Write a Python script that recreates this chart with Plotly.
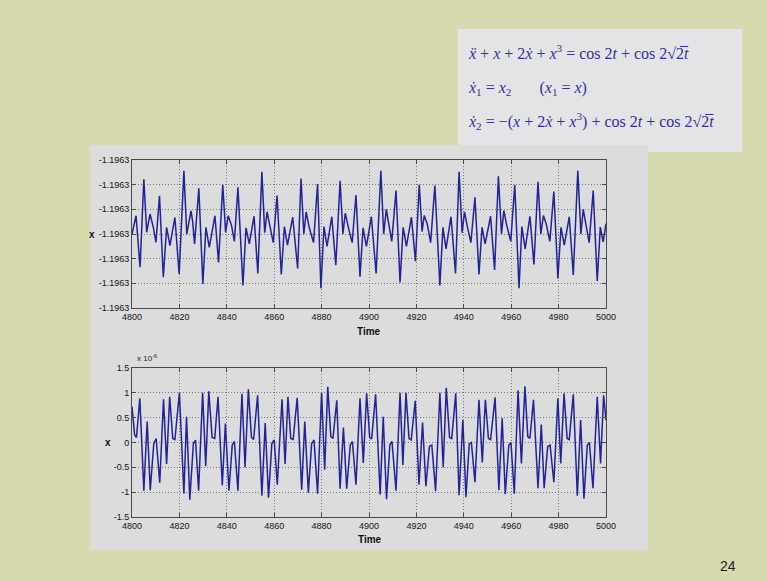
import plotly.graph_objects as go

W, H = 767, 581

# ---------------- data ----------------
# upper panel: x(t); all tick labels read "-1.1963", values stored in tick-step units around the centre tick
top_t = [4800.0, 4801.7, 4803.4,
         4805.0, 4806.2, 4807.6, 4809.0, 4810.1, 4811.6, 4813.2, 4814.6, 4816.0, 4818.1, 4819.9,
         4821.9, 4823.1, 4824.9, 4825.6, 4826.4, 4828.2, 4829.9, 4831.2, 4832.6, 4835.0, 4836.5,
         4838.3, 4839.5, 4840.6, 4842.0, 4843.2, 4844.7, 4846.8, 4848.1, 4849.5, 4851.5, 4853.1,
         4854.8, 4856.0, 4857.0, 4858.2, 4859.6, 4861.2, 4863.0, 4864.3, 4865.6, 4867.8, 4869.9,
         4871.3, 4872.5, 4873.5, 4874.8, 4876.6, 4878.3, 4879.7, 4881.0, 4882.3, 4884.3, 4886.0,
         4887.8, 4889.0, 4890.0, 4891.2, 4892.9, 4894.5, 4896.2, 4897.5, 4898.9, 4901.0, 4903.0,
         4905.0, 4906.2, 4907.3, 4908.4, 4909.6, 4911.4, 4913.1, 4914.4, 4915.8, 4917.9, 4919.6,
         4921.2, 4922.4, 4923.3, 4924.6, 4926.0, 4927.8, 4929.9, 4931.2, 4932.5, 4934.6, 4936.5,
         4938.0, 4939.3, 4940.3, 4941.5, 4943.0, 4944.7, 4946.4, 4947.7, 4949.0, 4951.3, 4953.0,
         4954.6, 4955.9, 4956.9, 4958.0, 4959.8, 4961.5, 4963.3, 4964.5, 4965.9, 4967.9, 4969.6,
         4971.3, 4972.5, 4973.6, 4974.8, 4976.3, 4978.0, 4979.7, 4981.0, 4982.4, 4984.5, 4986.2,
         4988.1, 4989.4, 4990.4, 4991.5, 4992.9, 4994.6, 4996.3, 4997.6, 4998.8, 5000.0]
top_x = [0.0, 0.74, -1.35,
         2.22, 0.07, 0.81, 0.27, -0.34, 1.55, -1.75, 0.27, -0.47, 0.67, -1.62,
         2.56, 0.0, 0.94, 0.5, -0.4, 1.85, -2.02, 0.27, -0.54, 0.74, -1.15,
         1.99, 0.07, 0.74, 0.34, -0.3, 1.89, -2.09, 0.25, -0.4, 0.72, -1.6,
         2.52, 0.05, 0.9, 0.3, -0.35, 1.56, -1.64, 0.3, -0.45, 0.68, -1.4,
         2.25, 0.0, 0.9, 0.25, -0.35, 2.03, -2.2, 0.3, -0.5, 0.7, -1.26,
         2.16, 0.0, 0.85, 0.3, -0.35, 1.58, -1.73, 0.25, -0.5, 0.7, -1.6,
         2.56, 0.0, 1.0, 0.45, -0.3, 1.76, -1.96, 0.27, -0.5, 0.68, -1.1,
         1.99, 0.1, 0.75, 0.4, -0.35, 1.96, -2.09, 0.27, -0.6, 0.7, -1.6,
         2.52, 0.05, 0.9, 0.3, -0.35, 1.49, -1.64, 0.27, -0.4, 0.72, -1.46,
         2.34, 0.0, 0.95, 0.4, -0.3, 1.99, -2.2, 0.3, -0.6, 0.72, -1.23,
         2.12, 0.0, 0.75, 0.4, -0.3, 1.72, -1.8, 0.27, -0.45, 0.7, -1.66,
         2.56, 0.0, 1.0, 0.4, -0.35, 1.76, -1.9, 0.28, -0.32, 0.42]
top_ticks = [-3, -2, -1, 0, 1, 2, 3]
top_ticklabels = ["-1.1963"] * 7

# lower panel: x(t) in units of 1e-6
bot_t = [4800.0, 4801.1, 4801.9,
         4803.3, 4805.0, 4806.4, 4807.7, 4809.2, 4810.2, 4811.7, 4813.3, 4814.6, 4815.9, 4817.2, 4818.1,
         4820.0, 4821.9, 4823.0, 4824.4, 4825.9, 4826.8, 4828.1, 4829.8, 4831.1, 4832.4, 4833.8, 4834.9,
         4836.3, 4838.1, 4839.4, 4840.9, 4842.3, 4843.2, 4844.7, 4846.4, 4847.7, 4849.1, 4850.4, 4851.3,
         4853.0, 4854.8, 4856.2, 4857.6, 4859.0, 4860.0, 4861.3, 4863.3, 4864.6, 4865.8, 4867.0, 4868.0,
         4869.7, 4871.6, 4872.9, 4874.4, 4875.8, 4876.8, 4878.3, 4880.0, 4881.3, 4882.6, 4883.9, 4884.8,
         4886.4, 4887.8, 4889.2, 4890.6, 4892.1, 4893.0, 4894.5, 4896.2, 4897.6, 4899.0, 4900.3, 4901.1,
         4902.8, 4904.7, 4906.0, 4907.4, 4908.8, 4909.7, 4911.4, 4913.1, 4914.3, 4915.6, 4916.9, 4917.8,
         4919.5, 4921.1, 4922.6, 4924.0, 4925.5, 4926.5, 4928.1, 4929.9, 4931.3, 4932.6, 4934.0, 4934.9,
         4936.6, 4938.0, 4939.6, 4940.9, 4942.3, 4943.2, 4944.7, 4946.4, 4947.8, 4949.1, 4950.4, 4951.3,
         4953.2, 4954.8, 4956.2, 4957.5, 4959.0, 4959.9, 4961.3, 4962.9, 4964.3, 4965.8, 4967.0, 4967.9,
         4969.4, 4971.3, 4972.7, 4973.9, 4975.4, 4976.4, 4978.0, 4979.7, 4980.9, 4982.3, 4983.6, 4984.5,
         4986.2, 4987.9, 4989.3, 4990.7, 4992.1, 4993.0, 4994.5, 4996.3, 4997.7, 4999.0, 5000.0]
bot_x = [0.72, 0.15, 0.1,
         0.89, -0.97, 0.42, -0.96, -0.02, 0.08, -0.81, 0.87, -0.43, 0.92, 0.08, 0.06,
         1.0, -1.03, 0.52, -1.15, -0.02, 0.05, -0.97, 1.0, -0.48, 1.03, 0.1, 0.08,
         0.92, -0.86, 0.38, -0.97, -0.05, 0.02, -0.97, 0.98, -0.5, 1.07, 0.1, 0.06,
         0.95, -1.07, 0.39, -1.11, -0.02, 0.05, -0.85, 0.87, -0.43, 0.92, 0.08, 0.06,
         0.9, -0.95, 0.42, -1.01, -0.02, 0.05, -1.03, 1.0, -0.55, 1.12, 0.12, 0.08,
         0.85, -0.93, 0.3, -0.93, -0.05, 0.02, -0.85, 0.89, -0.41, 0.99, 0.1, 0.07,
         0.97, -1.05, 0.52, -1.14, -0.05, 0.02, -0.97, 1.0, -0.45, 1.0, 0.08, 0.05,
         0.84, -0.85, 0.4, -0.88, -0.08, -0.05, -0.98, 1.0, -0.5, 1.1, 0.1, 0.08,
         0.99, -1.06, 0.45, -1.1, -0.03, 0.0, -0.8, 0.86, -0.4, 0.86, 0.08, 0.06,
         0.91, -0.96, 0.49, -1.04, -0.05, 0.0, -1.03, 1.05, -0.42, 1.13, 0.12, 0.08,
         0.86, -0.92, 0.36, -0.92, -0.08, -0.05, -0.8, 0.89, -0.42, 0.99, 0.08, 0.06,
         0.97, -1.07, 0.45, -1.13, -0.05, 0.0, -0.92, 0.92, -0.42, 0.95, 0.45]
bot_ticks = [-1.5, -1, -0.5, 0, 0.5, 1, 1.5]
bot_ticklabels = ["-1.5", "-1", "-0.5", "0", "0.5", "1", "1.5"]

time_ticks = [4800, 4820, 4840, 4860, 4880, 4900, 4920, 4940, 4960, 4980, 5000]

eq_lines = [
    "<i>x\u0308</i> + <i>x</i> + 2<i>x\u0307</i> + <i>x</i><sup>3</sup> = cos 2<i>t</i> + cos 2\u221a2\u0305<i>t</i>",
    "<i>x\u0307</i><sub>1</sub> = <i>x</i><sub>2</sub>       (<i>x</i><sub>1</sub> = <i>x</i>)",
    "<i>x\u0307</i><sub>2</sub> = \u2212(<i>x</i> + 2<i>x\u0307</i> + <i>x</i><sup>3</sup>) + cos 2<i>t</i> + cos 2\u221a2\u0305<i>t</i>",
]

# ---------------- figure ----------------
def px(x):
    return x / W

def py(y):
    return 1 - y / H

LINE = "#22229a"
TICKFONT = dict(family="Liberation Sans, Arial", size=9, color="#151515")

fig = go.Figure()
fig.add_trace(go.Scatter(x=top_t, y=top_x, mode="lines", line=dict(color=LINE, width=1.5),
                         xaxis="x", yaxis="y", showlegend=False, hoverinfo="skip"))
fig.add_trace(go.Scatter(x=bot_t, y=bot_x, mode="lines", line=dict(color=LINE, width=1.5),
                         xaxis="x2", yaxis="y2", showlegend=False, hoverinfo="skip"))

ax_common = dict(showline=True, linecolor="#4a4a4a", linewidth=1, mirror="allticks",
                 ticks="inside", ticklen=4, tickcolor="#4a4a4a",
                 showgrid=True, gridcolor="#7a7a7a", griddash="1px,2px", gridwidth=1,
                 zeroline=False, tickfont=TICKFONT, automargin=False)

xl, xr = px(132), px(606)
fig.update_layout(
    width=W, height=H,
    autosize=False,
    margin=dict(l=0, r=0, t=0, b=0, pad=0),
    paper_bgcolor="#d7d9ae",
    plot_bgcolor="#e2e2e2",
    xaxis=dict(domain=[xl, xr], range=[4800, 5000], tickvals=time_ticks, anchor="y", **ax_common),
    yaxis=dict(domain=[py(308), py(160)], range=[-3, 3], tickvals=top_ticks,
               ticktext=top_ticklabels, anchor="x", **ax_common),
    xaxis2=dict(domain=[xl, xr], range=[4800, 5000], tickvals=time_ticks, anchor="y2", **ax_common),
    yaxis2=dict(domain=[py(517), py(368)], range=[-1.5, 1.5], tickvals=bot_ticks,
                ticktext=bot_ticklabels, anchor="x2", **ax_common),
)

shapes = [
    # equation box
    dict(type="rect", xref="paper", yref="paper", x0=px(458), x1=px(742), y0=py(152), y1=py(29),
         fillcolor="#e4e4e6", line=dict(width=0), layer="below"),
    # figure panel
    dict(type="rect", xref="paper", yref="paper", x0=px(90), x1=px(648), y0=py(550), y1=py(145),
         fillcolor="#dcdcdc", line=dict(width=0), layer="below"),
]
fig.update_layout(shapes=shapes)

ann = []
eq_font = dict(family="Liberation Serif, Times New Roman", size=16, color="#3030a0")
for txt, yy in zip(eq_lines, [52, 88, 121]):
    ann.append(dict(text=txt, x=px(466), y=py(yy), xref="paper", yref="paper",
                    xanchor="left", yanchor="middle", showarrow=False, font=eq_font))

lab_font = dict(family="Liberation Sans, Arial", size=10, color="#111111")
C = dict(xref="paper", yref="paper", xanchor="center", yanchor="middle", showarrow=False)
ann += [
    dict(text="<b>x</b>", x=px(92), y=py(235), font=lab_font, **C),
    dict(text="<b>x</b>", x=px(108), y=py(442), font=lab_font, **C),
    dict(text="<b>Time</b>", x=px(369), y=py(331), font=lab_font, **C),
    dict(text="<b>Time</b>", x=px(370), y=py(539), font=lab_font, **C),
    dict(text="24", x=px(728), y=py(566), font=dict(family="Liberation Sans, Arial", size=14, color="#222222"), **C),
    dict(text="x 10<sup>-6</sup>", x=px(135), y=py(358), xref="paper", yref="paper", xanchor="left",
         yanchor="middle", showarrow=False,
         font=dict(family="Liberation Sans, Arial", size=8, color="#1e1e1e")),
]
fig.update_layout(annotations=ann)

fig.write_html("out.html", config={"displayModeBar": False, "responsive": False},
               post_script="document.body.style.margin='0px';document.body.style.overflow='hidden';")
